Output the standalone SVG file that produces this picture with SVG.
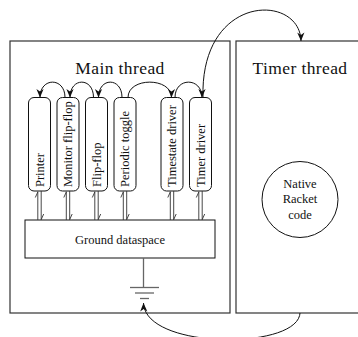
<svg xmlns="http://www.w3.org/2000/svg" width="358" height="337" viewBox="0 0 358 337">
<style>
text{font-family:"Liberation Serif","DejaVu Serif",serif;fill:#111}
.title{font-size:17.5px;letter-spacing:0.4px;text-anchor:middle}
.lbl{font-size:12.5px}
.mid{font-size:12.5px;text-anchor:middle}
.thread{fill:#fff;stroke:#333;stroke-width:1.2}
.actor{fill:#fff;stroke:#111;stroke-width:1}
.conn{fill:none;stroke:#111;stroke-width:1}
.harp{fill:none;stroke:#333;stroke-width:0.9}
.gnd{fill:none;stroke:#666;stroke-width:1.3}
</style>
<defs>
<marker id="ah" viewBox="-9 -5 10 10" refX="0" refY="0" markerWidth="10" markerHeight="10" markerUnits="userSpaceOnUse" orient="auto">
<path d="M0,0 L-8.5,-3.6 L-6,0 L-8.5,3.6 Z" fill="#111"/>
</marker>
</defs>
<g id="main-thread">
<rect class="thread" x="10" y="41" width="220" height="272"/>
<text class="title" x="120" y="74">Main thread</text>
</g>
<g id="timer-thread">
<rect class="thread" x="236" y="41" width="130" height="272"/>
<text class="title" x="300" y="74">Timer thread</text>
</g>
<g id="printer">
<rect class="actor" x="28.5" y="97.5" width="22" height="93.5" rx="5.5"/>
<text class="lbl" transform="translate(43.8,187) rotate(-90)">Printer</text>
</g>
<g id="monitor-flip-flop">
<rect class="actor" x="57" y="97.5" width="22" height="93.5" rx="5.5"/>
<text class="lbl" transform="translate(72.3,187) rotate(-90)">Monitor flip-flop</text>
</g>
<g id="flip-flop">
<rect class="actor" x="85.5" y="97.5" width="22" height="93.5" rx="5.5"/>
<text class="lbl" transform="translate(100.8,187) rotate(-90)">Flip-flop</text>
</g>
<g id="periodic-toggle">
<rect class="actor" x="114" y="97.5" width="22" height="93.5" rx="5.5"/>
<text class="lbl" transform="translate(129.3,187) rotate(-90)">Periodic toggle</text>
</g>
<g id="timestate-driver">
<rect class="actor" x="161" y="97.5" width="22" height="93.5" rx="5.5"/>
<text class="lbl" transform="translate(176.3,187) rotate(-90)">Timestate driver</text>
</g>
<g id="timer-driver">
<rect class="actor" x="189.5" y="97.5" width="22" height="93.5" rx="5.5"/>
<text class="lbl" transform="translate(204.8,187) rotate(-90)">Timer driver</text>
</g>
<g id="ground-dataspace">
<rect class="actor" x="25" y="220" width="190" height="38"/>
<text class="mid" x="120" y="244">Ground dataspace</text>
</g>
<g id="ground">
<line class="gnd" x1="143.5" y1="258" x2="143.5" y2="287.5"/>
<line class="gnd" x1="130" y1="287.5" x2="159" y2="287.5"/>
<line class="gnd" x1="135" y1="293" x2="154" y2="293"/>
<line class="gnd" x1="140" y1="298.5" x2="149" y2="298.5"/>
</g>
<g id="native-racket-code">
<circle cx="300" cy="199.5" r="38" fill="#fff" stroke="#111" stroke-width="1"/>
<text class="mid" x="300" y="188">Native</text>
<text class="mid" x="300" y="203">Racket</text>
<text class="mid" x="300" y="218.5">code</text>
</g>
<g id="connectors">
<path class="conn" marker-end="url(#ah)" d="M65,97.5 C65,77 40,77 40,97.5"/>
<path class="conn" marker-end="url(#ah)" d="M93.5,97.5 C93.5,77 70,77 70,97.5"/>
<path class="conn" marker-end="url(#ah)" d="M122,97.5 C122,77 98.5,77 98.5,97.5"/>
<path class="conn" marker-end="url(#ah)" d="M128,97.5 C128,77 171.5,77 171.5,97.5"/>
<path class="conn" marker-end="url(#ah)" d="M175,97.5 C175,77 202,77 202,97.5"/>
<path class="conn" marker-end="url(#ah)" d="M203,97.5 C200,-7 300,-7 301,41"/>
<path class="conn" marker-end="url(#ah)" d="M300,313 C298,350 145,350 143.5,303"/>
<g class="harp">
<path d="M37.8,220 V191.5 M37.8,192 L35.3,197.5 M41.2,191 V220 M41.2,219.5 L43.7,214"/>
<path d="M66.3,220 V191.5 M66.3,192 L63.8,197.5 M69.7,191 V220 M69.7,219.5 L72.2,214"/>
<path d="M94.8,220 V191.5 M94.8,192 L92.3,197.5 M98.2,191 V220 M98.2,219.5 L100.7,214"/>
<path d="M123.3,220 V191.5 M123.3,192 L120.8,197.5 M126.7,191 V220 M126.7,219.5 L129.2,214"/>
<path d="M170.3,220 V191.5 M170.3,192 L167.8,197.5 M173.7,191 V220 M173.7,219.5 L176.2,214"/>
<path d="M198.8,220 V191.5 M198.8,192 L196.3,197.5 M202.2,191 V220 M202.2,219.5 L204.7,214"/>
</g>
</g>
</svg>
